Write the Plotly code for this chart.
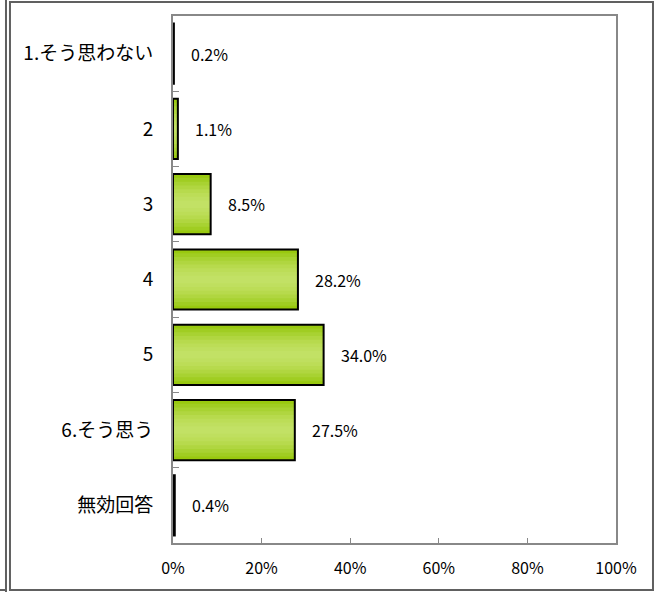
import plotly.graph_objects as go

# Survey answer distribution (%)
categories = ["1.そう思わない", "2", "3", "4", "5", "6.そう思う", "無効回答"]
values = [0.2, 1.1, 8.5, 28.2, 34.0, 27.5, 0.4]
labels = ["0.2%", "1.1%", "8.5%", "28.2%", "34.0%", "27.5%", "0.4%"]
x_ticks = [0, 20, 40, 60, 80, 100]
x_tick_text = ["0%", "20%", "40%", "60%", "80%", "100%"]

FONT = "Noto Sans CJK JP"

# bar gradient: dark edges -> light centre (layered bars of shrinking width)
grad_widths = [0.8, 0.7, 0.6, 0.5, 0.4, 0.3, 0.2, 0.1]
grad_colors = ["#99c90f", "#a0cd22", "#a8d232", "#b0d640",
               "#b7da4d", "#bcdd57", "#bfdf5f", "#c2e165"]

fig = go.Figure()
for w, c in zip(grad_widths, grad_colors):
    fig.add_trace(go.Bar(
        y=categories, x=values, orientation="h", width=w,
        marker=dict(color=c, line=dict(width=0)),
        hoverinfo="skip", showlegend=False,
    ))

# black outline on top
fig.add_trace(go.Bar(
    y=categories, x=values, orientation="h", width=0.8,
    marker=dict(color="rgba(0,0,0,0)", line=dict(color="black", width=2)),
    showlegend=False,
))

# value labels (y given as category index so "2", "3"... aren't read as numbers)
for i, (v, lab) in enumerate(zip(values, labels)):
    fig.add_annotation(x=v, y=i, text=lab, showarrow=False,
                       xanchor="left", xshift=15,
                       font=dict(family=FONT, size=16, color="black"))

# outer frame of the chart + neighbour chart's edge
frame = dict(color="#606060", width=2)
L, R, T, B = -0.368, 1.0835, 1.0266, -0.0892
fig.add_shape(type="rect", xref="paper", yref="paper",
              x0=L, x1=R, y0=B, y1=T, line=frame, layer="below")
fig.add_shape(type="line", xref="paper", yref="paper",
              x0=-0.377, x1=-0.377, y0=-0.095, y1=1.04, line=frame)
fig.add_shape(type="line", xref="paper", yref="paper",
              x0=-0.40, x1=-0.377, y0=B, y1=B, line=frame)

fig.update_layout(
    width=656, height=592,
    margin=dict(l=173, r=40, t=16, b=49),
    paper_bgcolor="white", plot_bgcolor="white",
    barmode="overlay",
    font=dict(family=FONT, size=16, color="black"),
    xaxis=dict(
        range=[0, 100], tickvals=x_ticks, ticktext=x_tick_text,
        ticks="inside", ticklen=5, tickcolor="#888888",
        showgrid=False, zeroline=False,
        showline=True, linecolor="#888888", linewidth=2, mirror=True,
        ticklabelstandoff=10, fixedrange=True,
        tickfont=dict(family=FONT, size=16),
    ),
    yaxis=dict(
        autorange="reversed", type="category",
        ticks="inside", tickson="boundaries", ticklen=6, tickcolor="#888888",
        showgrid=False, zeroline=False,
        showline=True, linecolor="#888888", linewidth=2, mirror=True,
        ticklabelstandoff=14, fixedrange=True,
        tickfont=dict(family=FONT, size=19),
    ),
)

fig.write_html("out.html", config={"displayModeBar": False},
               post_script="document.body.style.margin='0';")
